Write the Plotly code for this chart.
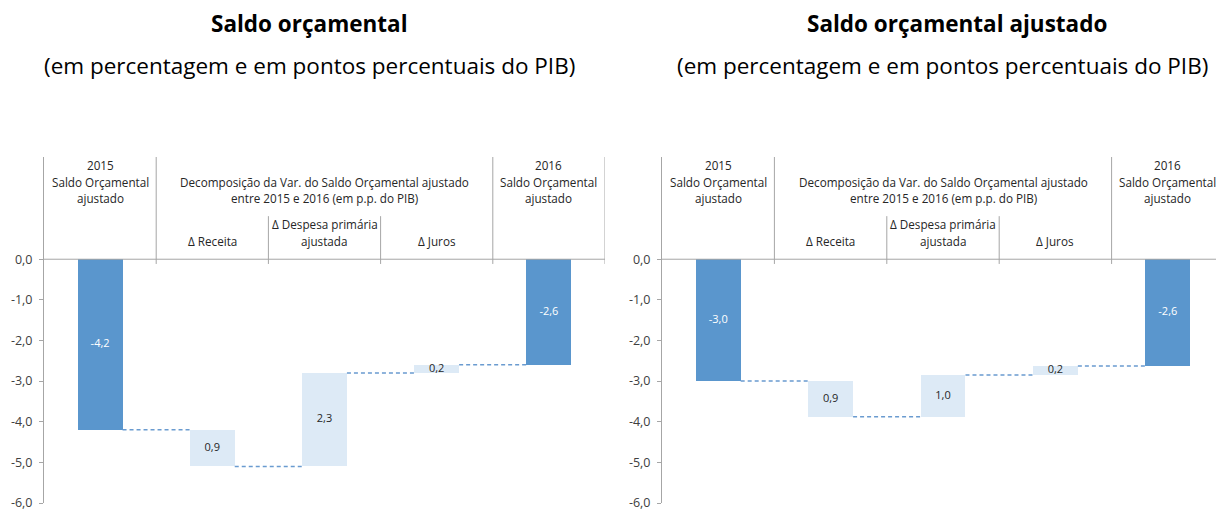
import plotly.graph_objects as go

# ---------------- data ----------------
header_top = ["2015", "Saldo Orçamental", "ajustado"]
header_end = ["2016", "Saldo Orçamental", "ajustado"]
header_mid = ["Decomposição da Var. do Saldo Orçamental ajustado", "entre 2015 e 2016 (em p.p. do PIB)"]
sub_receita = ["Δ Receita"]
sub_despesa = ["Δ Despesa primária", "ajustada"]
sub_juros = ["Δ Juros"]

is_total = [True, False, False, False, True]
left_vals = [-4.2, -0.9, 2.3, 0.2, -2.6]
left_labels = ["-4,2", "0,9", "2,3", "0,2", "-2,6"]
right_vals = [-3.0, -0.88, 1.03, 0.22, -2.63]
right_labels = ["-3,0", "0,9", "1,0", "0,2", "-2,6"]

tick_vals = [0, -1, -2, -3, -4, -5, -6]
tick_text = ["0,0", "-1,0", "-2,0", "-3,0", "-4,0", "-5,0", "-6,0"]

titles = ["Saldo orçamental", "Saldo orçamental ajustado"]
subtitle = "(em percentagem e em pontos percentuais do PIB)"

# ---------------- style ----------------
W, H = 1216, 511
TOP, BOT = 157, 508
ZERO = 260.7
DARK = "#5A96CD"
LIGHT = "#DDEAF6"
LINE = "#6A9BD0"
AX = "#A6A6A6"
TXT = "#262626"
FONT = "Open Sans"
BW = 0.4


def py(p):
    """pixel row -> paper y"""
    return (BOT - p) / (BOT - TOP)


fig = go.Figure()
shapes = []
annotations = []

panels = [
    dict(vals=left_vals, labels=left_labels, xa="x", ya="y", rng=[-0.5, 4.5]),
    dict(vals=right_vals, labels=right_labels, xa="x2", ya="y2",
         rng=[-0.5, -0.5 + (W - 662) / ((605 - 43) / 5)]),
]

for k, p in enumerate(panels):
    vals = p["vals"]
    bases, heights, ends = [], [], []
    run = 0.0
    for v, tot in zip(vals, is_total):
        if tot:
            bases.append(0.0)
            heights.append(v)
            run = v
        else:
            bases.append(run)
            heights.append(v)
            run = run + v
        ends.append(run)
    xs = list(range(len(vals)))
    colors = [DARK if t else LIGHT for t in is_total]
    fig.add_trace(go.Bar(x=xs, y=heights, base=bases, width=BW, marker=dict(color=colors, line=dict(width=0)),
                         xaxis=p["xa"], yaxis=p["ya"], showlegend=False, hoverinfo="skip"))
    mids = [b + h / 2 for b, h in zip(bases, heights)]
    fig.add_trace(go.Scatter(x=xs, y=mids, mode="text", text=p["labels"],
                             textfont=dict(family=FONT, size=11,
                                           color=["white" if t else TXT for t in is_total]),
                             xaxis=p["xa"], yaxis=p["ya"], showlegend=False, hoverinfo="skip"))
    for i in range(len(vals) - 1):
        shapes.append(dict(type="line", xref=p["xa"], yref=p["ya"], x0=i + BW / 2, x1=i + 1 - BW / 2,
                           y0=ends[i], y1=ends[i], line=dict(color=LINE, width=1.5, dash="4px,3px")))
    shapes.append(dict(type="line", xref=p["xa"], yref=p["ya"], x0=-0.5, x1=4.5, y0=0, y1=0,
                       line=dict(color=AX, width=1)))
    for b in [0.5, 1.5, 2.5, 3.5, 4.5]:
        top = TOP if b in (0.5, 3.5, 4.5) else 217
        shapes.append(dict(type="line", xref=p["xa"], yref="paper", x0=b, x1=b, y0=py(top), y1=py(265.5),
                           line=dict(color=AX, width=1)))

    def ann(x, yp, t, size=11.7):
        annotations.append(dict(x=x, y=py(yp), xref=p["xa"], yref="paper", text=t, showarrow=False,
                                xanchor="center", yanchor="middle", font=dict(family=FONT, size=size, color=TXT)))
    for j, t in enumerate(header_top):
        ann(0, 165 + 17 * j, t)
    for j, t in enumerate(header_end):
        ann(4, 165 + 17 * j, t)
    for j, t in enumerate(header_mid):
        ann(2, 182 + 17 * j, t)
    ann(1, 242, sub_receita[0])
    for j, t in enumerate(sub_despesa):
        ann(2, 225 + 17 * j, t)
    ann(3, 242, sub_juros[0])

title_cx = [310, 957]
sub_cx = [310, 943]
for k in range(2):
    annotations.append(dict(x=title_cx[k] / W, y=py(22), xref="paper", yref="paper", text="<b>" + titles[k] + "</b>",
                            showarrow=False, xanchor="center", yanchor="middle",
                            font=dict(family=FONT, size=22.5, color="#000000")))
    annotations.append(dict(x=sub_cx[k] / W, y=py(64), xref="paper", yref="paper", text=subtitle,
                            showarrow=False, xanchor="center", yanchor="middle",
                            font=dict(family=FONT, size=22.5, color="#000000")))

unit = (BOT - ZERO) / 6.0
ycommon = dict(range=[-6, (ZERO - TOP) / unit], tickvals=tick_vals, ticktext=tick_text, showline=True,
               linecolor=AX, linewidth=1, ticks="outside", ticklen=4, tickcolor=AX, showgrid=False,
               zeroline=False, ticklabeloverflow="allow", ticklabelstandoff=4,
               tickfont=dict(family=FONT, size=12.5, color="#404040"))
xcommon = dict(showticklabels=False, showgrid=False, zeroline=False, showline=False, ticks="")

fig.update_layout(
    width=W, height=H, margin=dict(l=0, r=0, t=TOP, b=H - BOT),
    plot_bgcolor="white", paper_bgcolor="white", showlegend=False,
    xaxis=dict(domain=[44 / W, 605 / W], range=panels[0]["rng"], **xcommon),
    xaxis2=dict(domain=[662 / W, 1.0], range=panels[1]["rng"], **xcommon),
    yaxis=dict(anchor="x", **ycommon),
    yaxis2=dict(anchor="x2", **ycommon),
    shapes=shapes, annotations=annotations, bargap=0,
)

fig.write_html("out.html", config={"displayModeBar": False},
               post_script="document.documentElement.style.margin='0';document.body.style.margin='0';"
                           "document.documentElement.style.overflow='hidden';document.body.style.overflow='hidden';")
